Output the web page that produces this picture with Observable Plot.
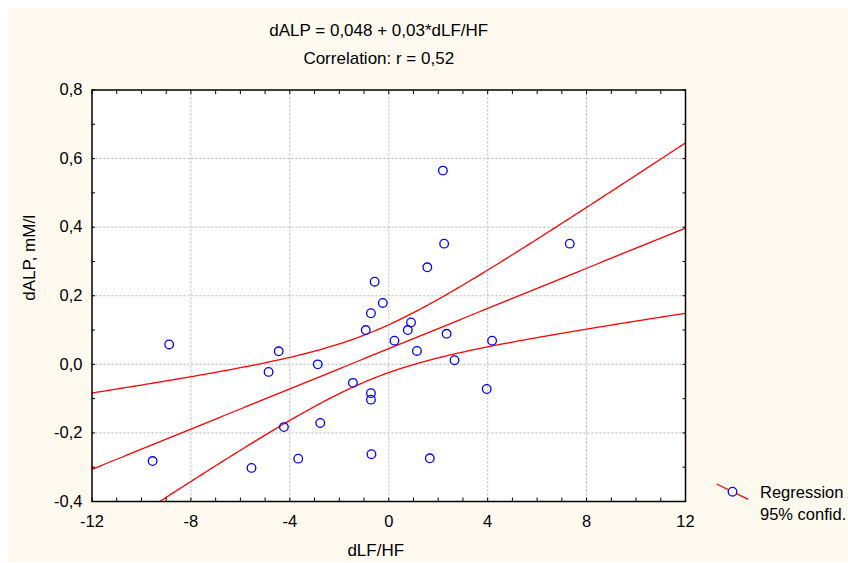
<!DOCTYPE html>
<html>
<head>
<meta charset="utf-8">
<script src="https://cdn.jsdelivr.net/npm/d3@7"></script>
<script src="https://cdn.jsdelivr.net/npm/@observablehq/plot@0.6"></script>
<style>
html, body { margin: 0; padding: 0; background: #ffffff; overflow: hidden; }
svg { display: block; }
</style>
</head>
<body>
<div id="chart"></div>
<script>
// ---- data ----
const dLFHF = [-9.55, -8.88, -5.55, -4.86, -4.45, -4.24, -3.66, -2.87, -2.77, -1.45,
               -0.93, -0.72, -0.72, -0.72, -0.70, -0.57, -0.24, 0.23, 0.77, 0.90,
               1.14, 1.56, 1.66, 2.19, 2.24, 2.34, 2.66, 3.96, 4.18, 7.32];
const dALP  = [-0.282, 0.058, -0.302, -0.022, 0.038, -0.183, -0.275, 0.000, -0.171, -0.054,
               0.100, 0.149, -0.084, -0.103, -0.262, 0.241, 0.179, 0.069, 0.100, 0.122,
               0.039, 0.283, -0.274, 0.565, 0.352, 0.089, 0.012, -0.072, 0.069, 0.352];
const xMajorTicks = [-12, -8, -4, 0, 4, 8, 12];
const yMajorTicks = [-0.4, -0.2, 0.0, 0.2, 0.4, 0.6, 0.8];
const xMinorTicks = d3.range(-12, 13, 1);
const yMinorTicks = d3.range(-4, 9).map(d => d / 10);
const titleLines = ["dALP = 0,048 + 0,03*dLF/HF", "Correlation: r = 0,52"];
const xLabel = "dLF/HF";
const yLabel = "dALP, mM/l";
const legendLabels = ["Regression", "95% confid."];
const tCrit = 2.048; // t(0.975, df = 28)

// ---- regression and 95% confidence band computed from the data ----
const pts = dLFHF.map((x, i) => ({x, y: dALP[i]}));
const n = pts.length;
const xbar = d3.mean(dLFHF), ybar = d3.mean(dALP);
const Sxx = d3.sum(dLFHF, x => (x - xbar) ** 2);
const Sxy = d3.sum(pts, p => (p.x - xbar) * (p.y - ybar));
const b = Sxy / Sxx, a = ybar - b * xbar;
const sse = d3.sum(pts, p => (p.y - (a + b * p.x)) ** 2);
const s = Math.sqrt(sse / (n - 2));
const curves = [];
for (const xv of d3.range(-12, 12.0001, 0.1)) {
  const yh = a + b * xv;
  const h = tCrit * s * Math.sqrt(1 / n + (xv - xbar) ** 2 / Sxx);
  curves.push({x: xv, y: yh - h, k: "lo"});
  curves.push({x: xv, y: yh, k: "fit"});
  curves.push({x: xv, y: yh + h, k: "hi"});
}

const cream = "#fefaf0";
const gridStyle = {stroke: "#b5b5b5", strokeOpacity: 1, strokeDasharray: "2,2", strokeWidth: 1};
const fmtY = d => d.toFixed(1).replace(".", ",");

const chart = Plot.plot({
  width: 848,
  height: 563,
  marginLeft: 91.5,
  marginRight: 163,
  marginTop: 89.5,
  marginBottom: 62,
  style: {background: "#ffffff", fontFamily: "'Liberation Sans', Arial, sans-serif", fontSize: "16px", color: "#000", overflow: "hidden"},
  x: {domain: [-12, 12]},
  y: {domain: [-0.4, 0.8]},
  marks: [
    Plot.frame({fill: "#ffffff", stroke: null}),
    Plot.gridX({ticks: xMajorTicks.slice(1, -1), ...gridStyle}),
    Plot.gridY({ticks: yMajorTicks.slice(1, -1), ...gridStyle}),
    Plot.line(curves, {x: "x", y: "y", z: "k", stroke: "#ff0000", strokeWidth: 1.3, clip: true}),
    Plot.dot(pts, {x: "x", y: "y", r: 4.3, stroke: "#0000ff", strokeWidth: 1.3, fill: "none"}),
    Plot.frame({stroke: "#000000", strokeWidth: 1.5}),
    // inward minor ticks on all four sides
    Plot.axisX({ticks: xMinorTicks, anchor: "bottom", tickSize: 3.5, dy: -3.5, tickFormat: () => "", label: null, stroke: "#000"}),
    Plot.axisX({ticks: xMinorTicks, anchor: "top", tickSize: 3.5, dy: 3.5, tickFormat: () => "", label: null, stroke: "#000"}),
    Plot.axisY({ticks: yMinorTicks, anchor: "left", tickSize: 3.5, dx: 3.5, tickFormat: () => "", label: null, stroke: "#000"}),
    Plot.axisY({ticks: yMinorTicks, anchor: "right", tickSize: 3.5, dx: -3.5, tickFormat: () => "", label: null, stroke: "#000"}),
    // tick labels
    Plot.axisX({ticks: xMajorTicks, anchor: "bottom", tickSize: 0, tickPadding: 13.5, tickFormat: d => String(d), label: null, fontSize: 16.5}),
    Plot.axisY({ticks: yMajorTicks, anchor: "left", tickSize: 0, tickPadding: 9.5, tickFormat: fmtY, label: null, fontSize: 16.5}),
    // titles and axis labels
    Plot.text([titleLines[0]], {text: d => d, frameAnchor: "top", dx: -10, dy: -59.5, lineAnchor: "middle", fontSize: 17}),
    Plot.text([titleLines[1]], {text: d => d, frameAnchor: "top", dx: -10, dy: -31.5, lineAnchor: "middle", fontSize: 17}),
    Plot.text([xLabel], {text: d => d, frameAnchor: "bottom", dx: -13, dy: 49, lineAnchor: "middle", fontSize: 17}),
    Plot.text([yLabel], {text: d => d, frameAnchor: "left", dx: -62.5, dy: 5, rotate: -90, lineAnchor: "middle", fontSize: 17})
  ]
});

const svg = d3.select(chart);
svg.insert("rect", ":first-child")
  .attr("x", 8).attr("y", 8).attr("width", 840).attr("height", 554)
  .attr("fill", cream);

// legend (outside the plot, at the right edge as in the reference)
const lg = svg.append("g");
lg.append("line").attr("x1", 716.7).attr("y1", 484).attr("x2", 748.3).attr("y2", 499.3)
  .attr("stroke", "#ff0000").attr("stroke-width", 1.3);
lg.append("circle").attr("cx", 732.5).attr("cy", 491.7).attr("r", 4.3)
  .attr("fill", cream).attr("stroke", "#0000ff").attr("stroke-width", 1.3);
lg.selectAll("text").data(legendLabels).join("text")
  .attr("x", 760).attr("y", (d, i) => 498 + i * 22)
  .attr("text-anchor", "start")
  .attr("font-size", 16.5).attr("fill", "#000").text(d => d);

document.getElementById("chart").appendChild(chart);
</script>
</body>
</html>
